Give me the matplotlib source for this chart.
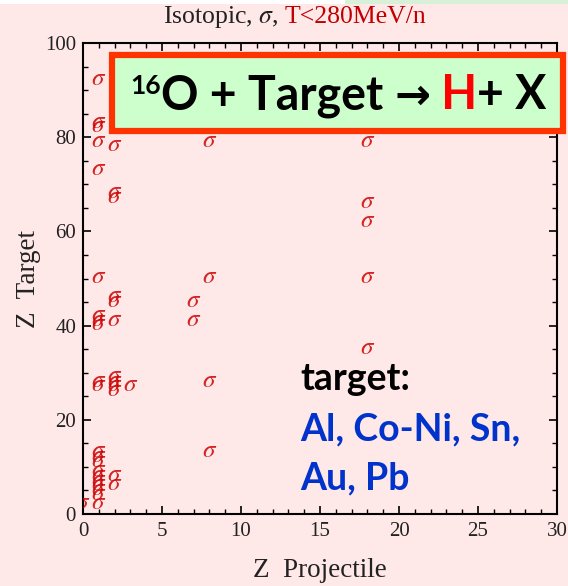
import matplotlib
matplotlib.use("Agg")
import matplotlib.pyplot as plt
from matplotlib.patches import Rectangle
from matplotlib.ticker import MultipleLocator

# ---- data (projectile Z, target Z) ----
proj_z = [0,
          1, 1, 1, 1, 1, 1, 1, 1, 1, 1, 1, 1, 1, 1, 1, 1, 1, 1, 1, 1, 1,
          2, 2, 2, 2, 2, 2, 2, 2, 2, 2, 2, 2,
          3,
          7, 7,
          8, 8, 8, 8,
          18, 18, 18, 18, 18]
target_z = [2,
            92, 83, 82, 79, 73, 50, 42, 41, 40, 28, 27, 13, 12, 11, 9, 8, 7, 6, 5, 4, 2,
            78, 68, 67, 46, 45, 41, 29, 28, 27, 26, 8, 6,
            27,
            45, 41,
            79, 50, 28, 13,
            79, 66, 62, 50, 35]

x_ticks = [0, 5, 10, 15, 20, 25, 30]
y_ticks = [0, 20, 40, 60, 80, 100]
title_black = "Isotopic, $\\sigma$,"
title_red = "T<280MeV/n"
box_parts = ["16", "O + Target ", "\u2192", " H", "+ X"]
target_label = "target:"
target_lines = ["Al, Co-Ni, Sn,", "Au, Pb"]

W, H = 568, 586
BG = "#FFE8E8"
fig = plt.figure(figsize=(W / 100, H / 100), dpi=100, facecolor=BG)

def fx(px):
    return px / W

def fy(py):
    return 1 - py / H

serif = ["Liberation Serif", "DejaVu Serif"]
plt.rcParams["mathtext.fontset"] = "stix"

ax = fig.add_axes([fx(83), fy(514), fx(557) - fx(83), fy(43) - fy(514)])
ax.set_facecolor(BG)
ax.set_xlim(0, 30)
ax.set_ylim(0, 100)
ax.set_xticks(x_ticks)
ax.set_yticks(y_ticks)
ax.xaxis.set_minor_locator(MultipleLocator(1))
ax.yaxis.set_minor_locator(MultipleLocator(5))
ax.tick_params(which="both", direction="in", top=True, right=True, color="black")
ax.tick_params(which="major", length=6, width=1.2)
ax.tick_params(which="minor", length=3.5, width=1.0)
for lab in ax.get_xticklabels() + ax.get_yticklabels():
    lab.set_fontfamily(serif)
    lab.set_fontsize(15)
    lab.set_color("#222222")
ax.tick_params(axis="x", pad=6)
ax.tick_params(axis="y", pad=5)
for s in ax.spines.values():
    s.set_linewidth(1.5)
    s.set_color("black")

ax.set_xlabel("Z  Projectile", fontfamily=serif, fontsize=19.5, color="#222222", labelpad=12)
ax.set_ylabel("Z  Target", fontfamily=serif, fontsize=19.5, color="#222222", labelpad=3)

for xp, yt in zip(proj_z, target_z):
    ax.text(xp, yt + 0.5, "$\\sigma$", color="#CC0000", alpha=0.85, fontsize=18,
            ha="center", va="center", clip_on=True)

# title
renderer = fig.canvas.get_renderer()
t1 = fig.text(fx(163), fy(17), title_black, fontfamily=serif, fontsize=18.5,
              color="#222222", ha="left", va="center")
bb = t1.get_window_extent(renderer)
fig.text((bb.x1 + 6) / fig.dpi / fig.get_figwidth(), fy(17), title_red, fontfamily=serif,
         fontsize=18.5, color="#C00000", ha="left", va="center")

# top white strip
fig.patches.append(Rectangle((0, fy(4)), 1, 1 - fy(4), transform=fig.transFigure,
                             facecolor="white", edgecolor="none", zorder=5))
fig.patches.append(Rectangle((fx(345), fy(4)), 1 - fx(345), 1 - fy(4), transform=fig.transFigure,
                             facecolor="#D8F0D8", edgecolor="none", zorder=6))

# highlighted box
fig.patches.append(Rectangle((fx(112), fy(131)), fx(563) - fx(112), fy(55) - fy(131),
                             transform=fig.transFigure, facecolor="#CCFFCC",
                             edgecolor="#FF3300", linewidth=4.5, zorder=10))

box_font = ["Lato", "DejaVu Sans"]
x_cur = 130.0
base_y = 109
specs = [(box_parts[0], "black", 19, -15),
         (box_parts[1], "black", 33.5, 0),
         (box_parts[2], "black", 31, 0),
         (box_parts[3], "#FF0000", 33.5, 0),
         (box_parts[4], "black", 33.5, 0)]
for txt, col, size, dy in specs:
    fam = ["DejaVu Sans"] if txt == "\u2192" else box_font
    t = fig.text(fx(x_cur), fy(base_y + dy), txt, fontfamily=fam, fontweight="bold",
                 fontsize=size, color=col, ha="left", va="baseline", zorder=11)
    b = t.get_window_extent(renderer)
    x_cur += b.width

fig.text(fx(300), fy(390), target_label, fontfamily=box_font, fontweight="bold",
         fontsize=27, color="black", ha="left", va="baseline", zorder=11)
fig.text(fx(300), fy(440), target_lines[0], fontfamily=box_font, fontweight="bold",
         fontsize=27, color="#0033CC", ha="left", va="baseline", zorder=11)
fig.text(fx(300), fy(489), target_lines[1], fontfamily=box_font, fontweight="bold",
         fontsize=27, color="#0033CC", ha="left", va="baseline", zorder=11)

fig.savefig("out.png", dpi=100, facecolor=BG)
